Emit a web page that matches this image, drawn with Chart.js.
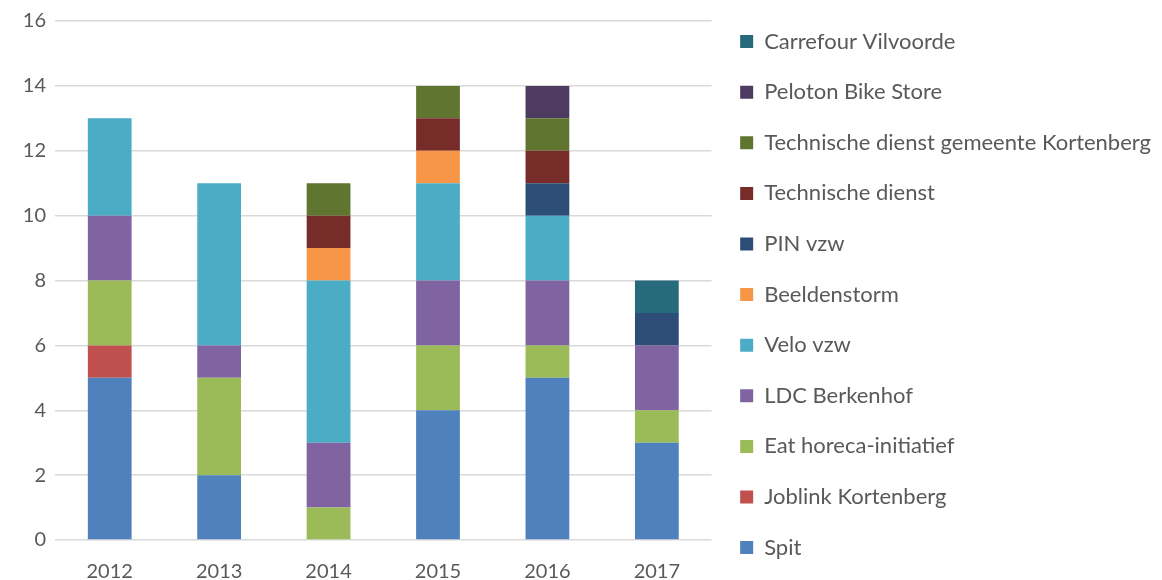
<!DOCTYPE html>
<html>
<head>
<meta charset="utf-8">
<script src="https://cdn.jsdelivr.net/npm/chart.js@4/dist/chart.umd.min.js"></script>
<style>
  html, body { margin: 0; padding: 0; background: #fff; }
  #wrap { width: 1162px; height: 580px; position: relative; }
</style>
</head>
<body>
<div id="wrap"><canvas id="chartOrg"></canvas></div>
<script>
const jaren = ['2012', '2013', '2014', '2015', '2016', '2017'];

const spit = [5, 2, 0, 4, 5, 3];
const joblink = [1, 0, 0, 0, 0, 0];
const eatHoreca = [2, 3, 1, 2, 1, 1];
const ldcBerkenhof = [2, 1, 2, 2, 2, 2];
const veloVzw = [3, 5, 5, 3, 2, 0];
const beeldenstorm = [0, 0, 1, 1, 0, 0];
const pinVzw = [0, 0, 0, 0, 1, 1];
const techDienst = [0, 0, 1, 1, 1, 0];
const techDienstKortenberg = [0, 0, 1, 1, 1, 0];
const peloton = [0, 0, 0, 0, 1, 0];
const carrefour = [0, 0, 0, 0, 0, 1];

const yTicks = [0, 2, 4, 6, 8, 10, 12, 14, 16];

const tekstKleur = '#595959';
const fontNaam = 'Lato';

function reeks(label, data, kleur) {
    return {
        label: label,
        data: data,
        backgroundColor: kleur,
        borderWidth: 0,
        categoryPercentage: 1,
        barPercentage: 0.4
    };
}

const ctx = document.getElementById('chartOrg');
new Chart(ctx, {
    type: 'bar',
    data: {
        labels: jaren,
        datasets: [
            reeks('Spit', spit, '#4F81BD'),
            reeks('Joblink Kortenberg', joblink, '#C0504D'),
            reeks('Eat horeca-initiatief', eatHoreca, '#9BBB59'),
            reeks('LDC Berkenhof', ldcBerkenhof, '#8064A2'),
            reeks('Velo vzw', veloVzw, '#4BACC6'),
            reeks('Beeldenstorm', beeldenstorm, '#F79646'),
            reeks('PIN vzw', pinVzw, '#2C4D75'),
            reeks('Technische dienst', techDienst, '#772C2A'),
            reeks('Technische dienst gemeente Kortenberg', techDienstKortenberg, '#5F7530'),
            reeks('Peloton Bike Store', peloton, '#4D3B62'),
            reeks('Carrefour Vilvoorde', carrefour, '#276A7C')
        ]
    },
    options: {
        responsive: true,
        maintainAspectRatio: false,
        animation: false,
        // negatieve onderrand zodat de legende 11 rijen kwijt kan
        layout: { padding: { top: 2, right: 1, left: 0, bottom: -10 } },
        plugins: {
            tooltip: { enabled: false },
            legend: {
                position: 'right',
                align: 'start',
                reverse: true,
                maxWidth: 600,
                labels: {
                    boxWidth: 13,
                    boxHeight: 13,
                    padding: 28.6,
                    color: tekstKleur,
                    font: { family: fontNaam, size: 22 }
                }
            }
        },
        scales: {
            x: {
                stacked: true,
                afterFit: function(scale) { scale.height = 50; },
                grid: { display: false },
                border: { display: false },
                ticks: {
                    color: tekstKleur,
                    padding: 12,
                    font: { family: fontNaam, size: 20 }
                }
            },
            y: {
                stacked: true,
                min: 0,
                max: 16,
                afterFit: function(scale) {
                    scale.width = 55;
                    scale.paddingTop = 21;
                },
                afterBuildTicks: function(scale) {
                    scale.ticks = yTicks.map(v => ({ value: v }));
                },
                grid: { color: '#d9d9d9', lineWidth: 1.5, drawTicks: false },
                border: { display: false },
                ticks: {
                    color: tekstKleur,
                    padding: 9,
                    font: { family: fontNaam, size: 20 }
                }
            }
        }
    }
});
</script>
</body>
</html>
